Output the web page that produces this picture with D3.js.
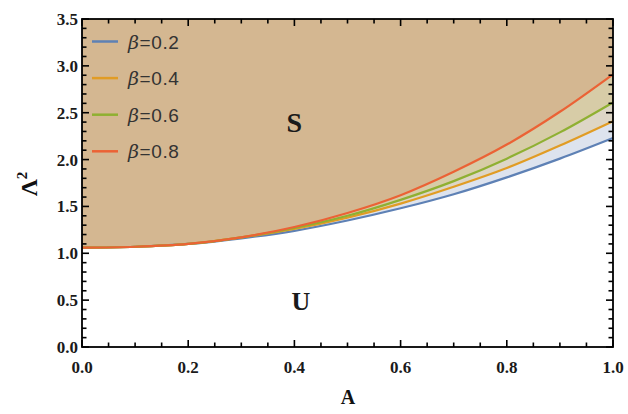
<!DOCTYPE html>
<html>
<head>
<meta charset="utf-8">
<script src="https://cdn.jsdelivr.net/npm/d3@7"></script>
<style>
  body { margin: 0; background: #fff; }
  svg { display: block; }
  .tick-label { font-family: "Liberation Serif", "DejaVu Serif", serif; font-weight: bold; font-size: 17px; fill: #1a1a1a; }
  .legend-text { font-family: "Liberation Sans", Arial, sans-serif; font-size: 19px; letter-spacing: 0.6px; fill: #333; }
</style>
</head>
<body>
<div id="chart"></div>
<script>
// values
const aValues = [0, 0.1, 0.2, 0.3, 0.4, 0.5, 0.6, 0.7, 0.8, 0.9, 1.0];
const beta02 = [1.06, 1.07, 1.10, 1.16, 1.24, 1.35, 1.48, 1.63, 1.81, 2.01, 2.23];
const beta04 = [1.06, 1.07, 1.10, 1.17, 1.26, 1.38, 1.53, 1.71, 1.91, 2.15, 2.41];
const beta06 = [1.06, 1.07, 1.10, 1.17, 1.27, 1.40, 1.57, 1.77, 2.01, 2.29, 2.61];
const beta08 = [1.06, 1.07, 1.10, 1.17, 1.28, 1.43, 1.62, 1.87, 2.16, 2.51, 2.91];
const seriesNames = ["0.2", "0.4", "0.6", "0.8"];
const seriesValues = [beta02, beta04, beta06, beta08];
const seriesColors = ["#5e81b5", "#e19c24", "#8fb032", "#eb6235"];
// fill above each curve up to the next one (last one up to the top)
const bandColors = ["#dde3ee", "#ddd6c6", "#d7cca7", "#d4b791"];
const xTicks = [0, 0.2, 0.4, 0.6, 0.8, 1.0];
const yTicks = [0, 0.5, 1.0, 1.5, 2.0, 2.5, 3.0, 3.5];
const xMinorTicks = d3.range(0, 21).map((i) => i / 20);
const yMinorTicks = d3.range(0, 36).map((i) => i / 10);

const width = 628, height = 414;
const margin = { top: 19, right: 15, bottom: 67, left: 82 };
const innerW = width - margin.left - margin.right;
const innerH = height - margin.top - margin.bottom;

const x = d3.scaleLinear().domain([0, 1]).range([0, innerW]);
const y = d3.scaleLinear().domain([0, 3.5]).range([innerH, 0]);

const svg = d3.select("#chart").append("svg")
  .attr("width", width).attr("height", height);
const g = svg.append("g").attr("transform", `translate(${margin.left},${margin.top})`);

const series = seriesValues.map((vals, i) => ({
  name: seriesNames[i],
  color: seriesColors[i],
  points: aValues.map((a, j) => ({ a, v: vals[j] })),
}));

const curve = d3.curveMonotoneX;

// bands
series.forEach((s, i) => {
  const upper = i < series.length - 1 ? series[i + 1] : null;
  const area = d3.area()
    .curve(curve)
    .x((d) => x(d.a))
    .y0((d) => y(d.v))
    .y1((d, j) => (upper ? y(upper.points[j].v) : 0));
  g.append("path")
    .datum(s.points)
    .attr("fill", bandColors[i])
    .attr("d", area);
});

// lines
const line = d3.line().curve(curve).x((d) => x(d.a)).y((d) => y(d.v));
series.forEach((s) => {
  g.append("path")
    .datum(s.points)
    .attr("fill", "none")
    .attr("stroke", s.color)
    .attr("stroke-width", 2.2)
    .attr("d", line);
});

// inward ticks on all four sides, as small filled rects
const isMajor = (v, step) => Math.abs(v / step - Math.round(v / step)) < 1e-6;
const tw = 1.6;
const xLen = (d) => (isMajor(d, 0.2) ? 7 : 4.5);
const yLen = (d) => (isMajor(d, 0.5) ? 7 : 4.5);
const tickG = g.append("g").attr("fill", "#000");

tickG.selectAll(".xb").data(xMinorTicks).join("rect").attr("class", "xb")
  .attr("x", (d) => x(d) - tw / 2).attr("width", tw)
  .attr("y", (d) => innerH - xLen(d)).attr("height", xLen);
tickG.selectAll(".xt").data(xMinorTicks).join("rect").attr("class", "xt")
  .attr("x", (d) => x(d) - tw / 2).attr("width", tw)
  .attr("y", 0).attr("height", xLen);
tickG.selectAll(".yl").data(yMinorTicks).join("rect").attr("class", "yl")
  .attr("y", (d) => y(d) - tw / 2).attr("height", tw)
  .attr("x", 0).attr("width", yLen);
tickG.selectAll(".yr").data(yMinorTicks).join("rect").attr("class", "yr")
  .attr("y", (d) => y(d) - tw / 2).attr("height", tw)
  .attr("x", (d) => innerW - yLen(d)).attr("width", yLen);

// frame
g.append("rect")
  .attr("width", innerW).attr("height", innerH)
  .attr("fill", "none").attr("stroke", "#000").attr("stroke-width", 1.8);

g.selectAll(".xlabel")
  .data(xTicks)
  .join("text")
  .attr("class", "tick-label")
  .attr("x", (d) => x(d))
  .attr("y", innerH + 26)
  .attr("text-anchor", "middle")
  .text((d) => d.toFixed(1));

g.selectAll(".ylabel")
  .data(yTicks)
  .join("text")
  .attr("class", "tick-label")
  .attr("x", -4)
  .attr("y", (d) => y(d) + 6)
  .attr("text-anchor", "end")
  .text((d) => d.toFixed(1));

// axis titles
svg.append("text")
  .attr("x", 348)
  .attr("y", 404)
  .attr("text-anchor", "middle")
  .attr("font-family", "Liberation Serif, serif")
  .attr("font-weight", "bold")
  .attr("font-size", 20)
  .attr("fill", "#111")
  .text("A");

const yt = svg.append("text")
  .attr("transform", "translate(37,184) rotate(-90)")
  .attr("text-anchor", "middle")
  .attr("font-family", "Liberation Serif, serif")
  .attr("font-weight", "bold")
  .attr("font-size", 24)
  .attr("fill", "#111");
yt.append("tspan").text("Λ");
yt.append("tspan").attr("dy", -10).attr("font-size", 15).text("2");

// region labels
const regionLabels = [{ t: "S", a: 0.4, v: 2.29, size: 28 }, { t: "U", a: 0.412, v: 0.4, size: 26 }];
g.selectAll(".region")
  .data(regionLabels)
  .join("text")
  .attr("x", (d) => x(d.a))
  .attr("y", (d) => y(d.v))
  .attr("text-anchor", "middle")
  .attr("font-family", "Liberation Serif, serif")
  .attr("font-weight", "bold")
  .attr("font-size", (d) => d.size)
  .attr("fill", "#1a1a1a")
  .text((d) => d.t);

// legend
const legend = svg.append("g").attr("transform", "translate(92,41.5)");
series.forEach((s, i) => {
  const row = legend.append("g").attr("transform", `translate(0,${i * 36.6})`);
  row.append("line")
    .attr("x1", 0).attr("x2", 26).attr("y1", 0).attr("y2", 0)
    .attr("stroke", s.color).attr("stroke-width", 2.5);
  const t = row.append("text").attr("class", "legend-text").attr("x", 36).attr("y", 7);
  t.append("tspan").attr("font-style", "italic").attr("font-family", "DejaVu Serif, serif").text("β");
  t.append("tspan").text("=" + s.name);
});
</script>
</body>
</html>
